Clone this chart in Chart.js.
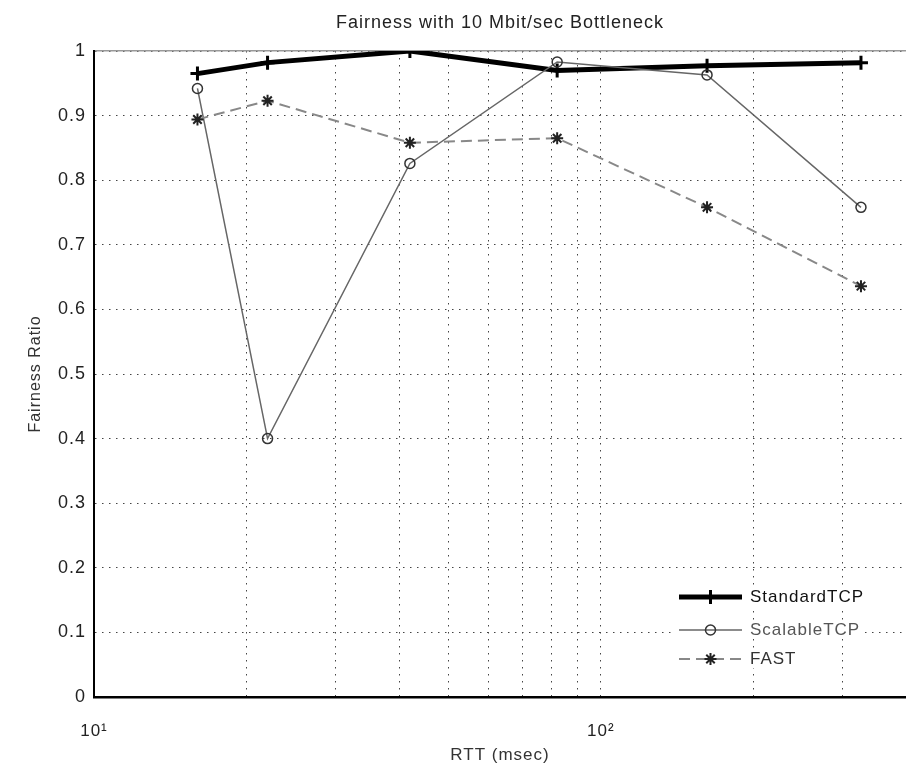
<!DOCTYPE html>
<html lang="en">
<head>
    <meta charset="UTF-8">
    <title>Fairness with 10 Mbit/sec Bottleneck</title>
    <style>
        body {
            margin: 0;
            background-color: white;
        }
    </style>
</head>
<body>
    <canvas id="fairChart" width="906" height="774"></canvas>

    <script src="https://cdn.jsdelivr.net/npm/chart.js@4.4.1/dist/chart.umd.min.js"></script>
    <script>
        // RTT (msec) of each run
        const rtt = [16, 22, 42, 82, 162, 326];
        // fairness ratio per protocol
        const standardTCP = [0.965, 0.982, 1.0, 0.970, 0.977, 0.982];
        const scalableTCP = [0.942, 0.400, 0.826, 0.983, 0.963, 0.758];
        const fast = [0.894, 0.923, 0.858, 0.865, 0.758, 0.636];

        const seriesNames = ['StandardTCP', 'ScalableTCP', 'FAST'];

        // log axis grid / ticks
        const xTickValues = [10, 20, 30, 40, 50, 60, 70, 80, 90, 100, 200, 300, 400];
        const xTickText = ['10¹', '', '', '', '', '', '', '', '', '10²', '', '', ''];
        const yTickValues = [0, 0.1, 0.2, 0.3, 0.4, 0.5, 0.6, 0.7, 0.8, 0.9, 1];
        const yTickText = ['0', '0.1', '0.2', '0.3', '0.4', '0.5', '0.6', '0.7', '0.8', '0.9', '1'];

        const toPoints = (vals) => rtt.map((x, i) => ({ x: x, y: vals[i] }));

        Chart.defaults.font.family = "'Liberation Sans', Arial, sans-serif";
        Chart.defaults.color = '#222';

        // wider letters like the original export
        const spacing = {
            id: 'spacing',
            beforeUpdate(chart) { chart.ctx.letterSpacing = '1px'; },
            beforeDraw(chart) { chart.ctx.letterSpacing = '1px'; }
        };

        // legend in the lower right corner, line sample with marker
        const cornerLegend = {
            id: 'cornerLegend',
            afterDatasetsDraw(chart) {
                const ctx = chart.ctx;
                const area = chart.chartArea;
                const rows = [100, 67, 38];
                const textColors = ['#111', '#555', '#333'];
                ctx.save();
                ctx.font = "17px 'Liberation Sans', Arial, sans-serif";
                ctx.textBaseline = 'middle';
                chart.data.datasets.forEach((ds, i) => {
                    const y = area.bottom - rows[i];
                    const x0 = area.right - 227;
                    const x1 = area.right - 164;
                    const tx = area.right - 156;
                    const w = ctx.measureText(ds.label).width;
                    ctx.fillStyle = 'white';
                    ctx.fillRect(x0 - 4, y - 9, tx + w + 4 - (x0 - 4), 18);

                    ctx.strokeStyle = ds.borderColor;
                    ctx.lineWidth = ds.borderWidth;
                    ctx.setLineDash(ds.borderDash || []);
                    ctx.beginPath();
                    ctx.moveTo(x0, y);
                    ctx.lineTo(x1, y);
                    ctx.stroke();
                    ctx.setLineDash([]);

                    ctx.strokeStyle = ds.pointBorderColor;
                    ctx.fillStyle = ds.pointBackgroundColor;
                    ctx.lineWidth = ds.pointBorderWidth;
                    Chart.helpers.drawPoint(ctx, {
                        pointStyle: ds.pointStyle,
                        radius: ds.pointRadius,
                        borderWidth: ds.pointBorderWidth,
                        rotation: 0
                    }, (x0 + x1) / 2, y);

                    ctx.fillStyle = textColors[i];
                    ctx.textAlign = 'left';
                    ctx.fillText(ds.label, tx, y);
                });
                ctx.restore();
            }
        };

        const gridStyle = {
            color: '#444',
            lineWidth: 1,
            drawTicks: false
        };

        const noSidePadding = (s) => { s.paddingLeft = 0; s.paddingRight = 0; };

        new Chart(document.getElementById('fairChart'), {
            type: 'line',
            data: {
                datasets: [{
                    label: seriesNames[0],
                    data: toPoints(standardTCP),
                    borderColor: '#000',
                    borderWidth: 5,
                    pointStyle: 'cross',
                    pointRadius: 7,
                    pointBorderWidth: 3,
                    pointBorderColor: '#000',
                    pointBackgroundColor: '#000',
                    order: 3
                }, {
                    label: seriesNames[1],
                    data: toPoints(scalableTCP),
                    borderColor: '#666',
                    borderWidth: 1.5,
                    pointStyle: 'circle',
                    pointRadius: 5,
                    pointBorderWidth: 1.5,
                    pointBorderColor: '#333',
                    pointBackgroundColor: 'rgba(0,0,0,0)',
                    order: 2
                }, {
                    label: seriesNames[2],
                    data: toPoints(fast),
                    borderColor: '#888',
                    borderWidth: 2,
                    borderDash: [11, 6],
                    pointStyle: 'star',
                    pointRadius: 6,
                    pointBorderWidth: 2,
                    pointBorderColor: '#222',
                    pointBackgroundColor: '#222',
                    order: 1
                }]
            },
            options: {
                responsive: false,
                devicePixelRatio: 1,
                animation: false,
                layout: { padding: 0, autoPadding: false },
                elements: { line: { tension: 0 } },
                plugins: {
                    legend: { display: false },
                    tooltip: { enabled: false },
                    title: {
                        display: true,
                        fullSize: false,
                        text: 'Fairness with 10 Mbit/sec Bottleneck',
                        color: '#222',
                        font: { size: 18, weight: 'normal', lineHeight: 1.2 },
                        padding: { top: 12.7, bottom: 16.7 }
                    }
                },
                scales: {
                    x: {
                        type: 'logarithmic',
                        min: 10,
                        max: 400,
                        afterFit: (s) => { s.height = 77; noSidePadding(s); },
                        afterBuildTicks: (s) => { s.ticks = xTickValues.map(v => ({ value: v })); },
                        ticks: {
                            autoSkip: false,
                            maxRotation: 0,
                            padding: 24,
                            color: '#222',
                            font: { size: 17 },
                            callback: (v) => xTickText[xTickValues.indexOf(v)] || ''
                        },
                        grid: gridStyle,
                        border: { display: true, color: '#000', width: 2.5, dash: [1.5, 5.5] },
                        title: {
                            display: true,
                            text: 'RTT (msec)',
                            color: '#333',
                            font: { size: 17 },
                            padding: { top: 0, bottom: 8 }
                        }
                    },
                    xTop: {
                        type: 'logarithmic',
                        position: 'top',
                        min: 10,
                        max: 400,
                        afterFit: (s) => { s.height = 0; noSidePadding(s); },
                        ticks: { display: false },
                        grid: { display: false },
                        border: { display: true, color: '#999', width: 1.5 }
                    },
                    y: {
                        min: 0,
                        max: 1,
                        afterFit: (s) => { s.width = 94; },
                        afterBuildTicks: (s) => { s.ticks = yTickValues.map(v => ({ value: v })); },
                        ticks: {
                            padding: 8,
                            color: '#222',
                            font: { size: 18 },
                            callback: (v) => yTickText[yTickValues.indexOf(v)]
                        },
                        grid: gridStyle,
                        border: { display: true, color: '#000', width: 2, dash: [1.5, 5.5] },
                        title: {
                            display: true,
                            text: 'Fairness Ratio',
                            color: '#333',
                            font: { size: 16 },
                            padding: { top: 26, bottom: 0 }
                        }
                    }
                }
            },
            plugins: [spacing, cornerLegend]
        });
    </script>
</body>
</html>
